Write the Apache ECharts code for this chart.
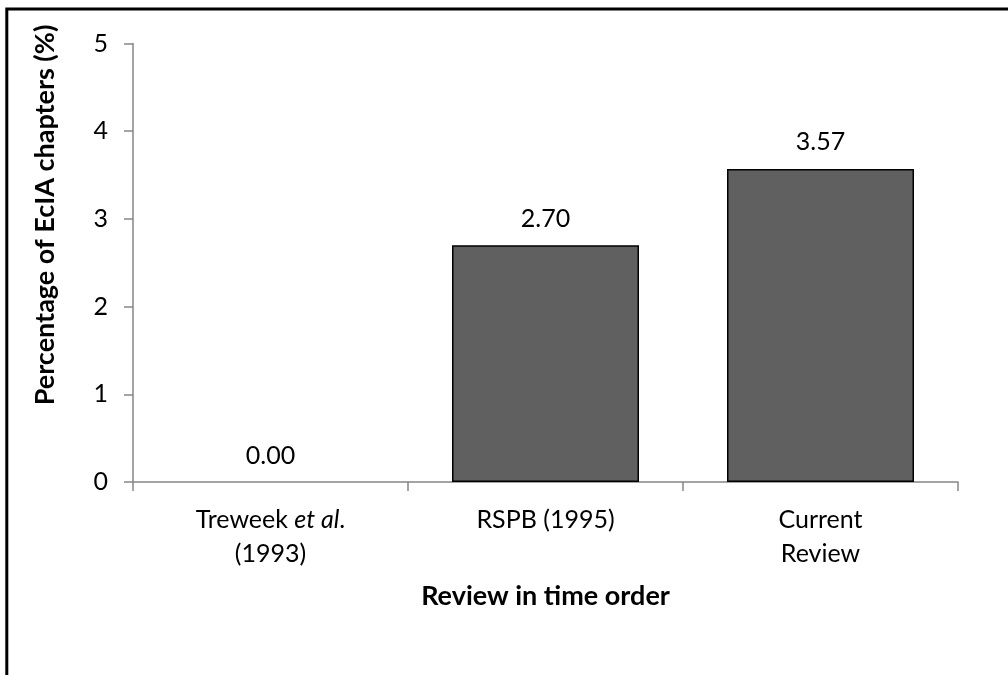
<!DOCTYPE html>
<html>
<head>
<meta charset="utf-8">
<script src="https://cdn.jsdelivr.net/npm/echarts@6/dist/echarts.min.js"></script>
<style>
  html, body { margin: 0; padding: 0; background: #fff; }
  #chart { width: 1008px; height: 675px; }
</style>
</head>
<body>
<div id="chart"></div>
<script>
// Reviews in chronological order and the share of EcIA chapters found in each
const categories = ['Treweek et al. (1993)', 'RSPB (1995)', 'Current Review'];
const percentages = [0.00, 2.70, 3.57];
const yTicks = [0, 1, 2, 3, 4, 5];

const FONT = 'Lato, "Open Sans", sans-serif';
const AXIS_GREY = '#868686';

// Category label text, with the Latin abbreviation set in italics
function categoryLabel(name) {
  if (name === 'Treweek et al. (1993)') return 'Treweek {i|et al}.\n(1993)';
  if (name === 'Current Review') return 'Current\nReview';
  return name;
}

// A zero-height bar should not leave an outline on the axis
const barData = percentages.map(v => (
  v === 0 ? { value: v, itemStyle: { borderWidth: 0 } } : { value: v }
));

const chart = echarts.init(document.getElementById('chart'), null, { renderer: 'canvas' });

chart.setOption({
  backgroundColor: '#ffffff',
  animation: false,
  textStyle: { fontFamily: FONT },
  grid: { left: 133, right: 50, top: 43.5, bottom: 193, containLabel: false },
  xAxis: {
    type: 'category',
    data: categories,
    axisLine: { show: true, lineStyle: { color: AXIS_GREY, width: 1.5 } },
    axisTick: { show: true, alignWithLabel: false, length: 9, lineStyle: { color: AXIS_GREY, width: 1.5 } },
    axisLabel: {
      formatter: categoryLabel,
      color: '#000',
      fontSize: 25,
      fontFamily: FONT,
      lineHeight: 34,
      margin: 21,
      interval: 0,
      rich: {
        i: { fontStyle: 'italic', fontSize: 25, fontFamily: FONT, color: '#000', lineHeight: 34 }
      }
    },
    name: 'Review in time order',
    nameLocation: 'middle',
    nameGap: 101,
    nameMoveOverlap: false,
    nameTextStyle: { color: '#000', fontSize: 27, fontWeight: 'bold', fontFamily: FONT }
  },
  yAxis: {
    type: 'value',
    min: yTicks[0],
    max: yTicks[yTicks.length - 1],
    interval: 1,
    splitLine: { show: false },
    axisLine: { show: true, lineStyle: { color: AXIS_GREY, width: 1.5 } },
    axisTick: { show: true, length: 9, lineStyle: { color: AXIS_GREY, width: 1.5 } },
    axisLabel: { color: '#000', fontSize: 25, fontFamily: FONT, margin: 25 }
  },
  graphic: [
    {
      // y-axis title, read bottom to top
      type: 'text',
      x: 45,
      y: 215,
      rotation: Math.PI / 2,
      style: {
        text: 'Percentage of EcIA chapters (%)',
        fill: '#000',
        font: 'bold 27px ' + FONT,
        align: 'center',
        verticalAlign: 'middle'
      }
    },
    {
      // outer frame
      type: 'rect',
      shape: { x: 6.8, y: 9, width: 1200, height: 900 },
      style: { fill: 'none', stroke: '#000', lineWidth: 3 },
      silent: true,
      z: 100
    }
  ],
  series: [{
    type: 'bar',
    data: barData,
    barCategoryGap: '32%',
    itemStyle: { color: '#606060', borderColor: '#000', borderWidth: 1.5 },
    label: {
      show: true,
      position: 'top',
      distance: 14,
      color: '#000',
      fontSize: 25,
      fontFamily: FONT,
      formatter: p => p.value.toFixed(2)
    }
  }]
});
</script>
</body>
</html>
